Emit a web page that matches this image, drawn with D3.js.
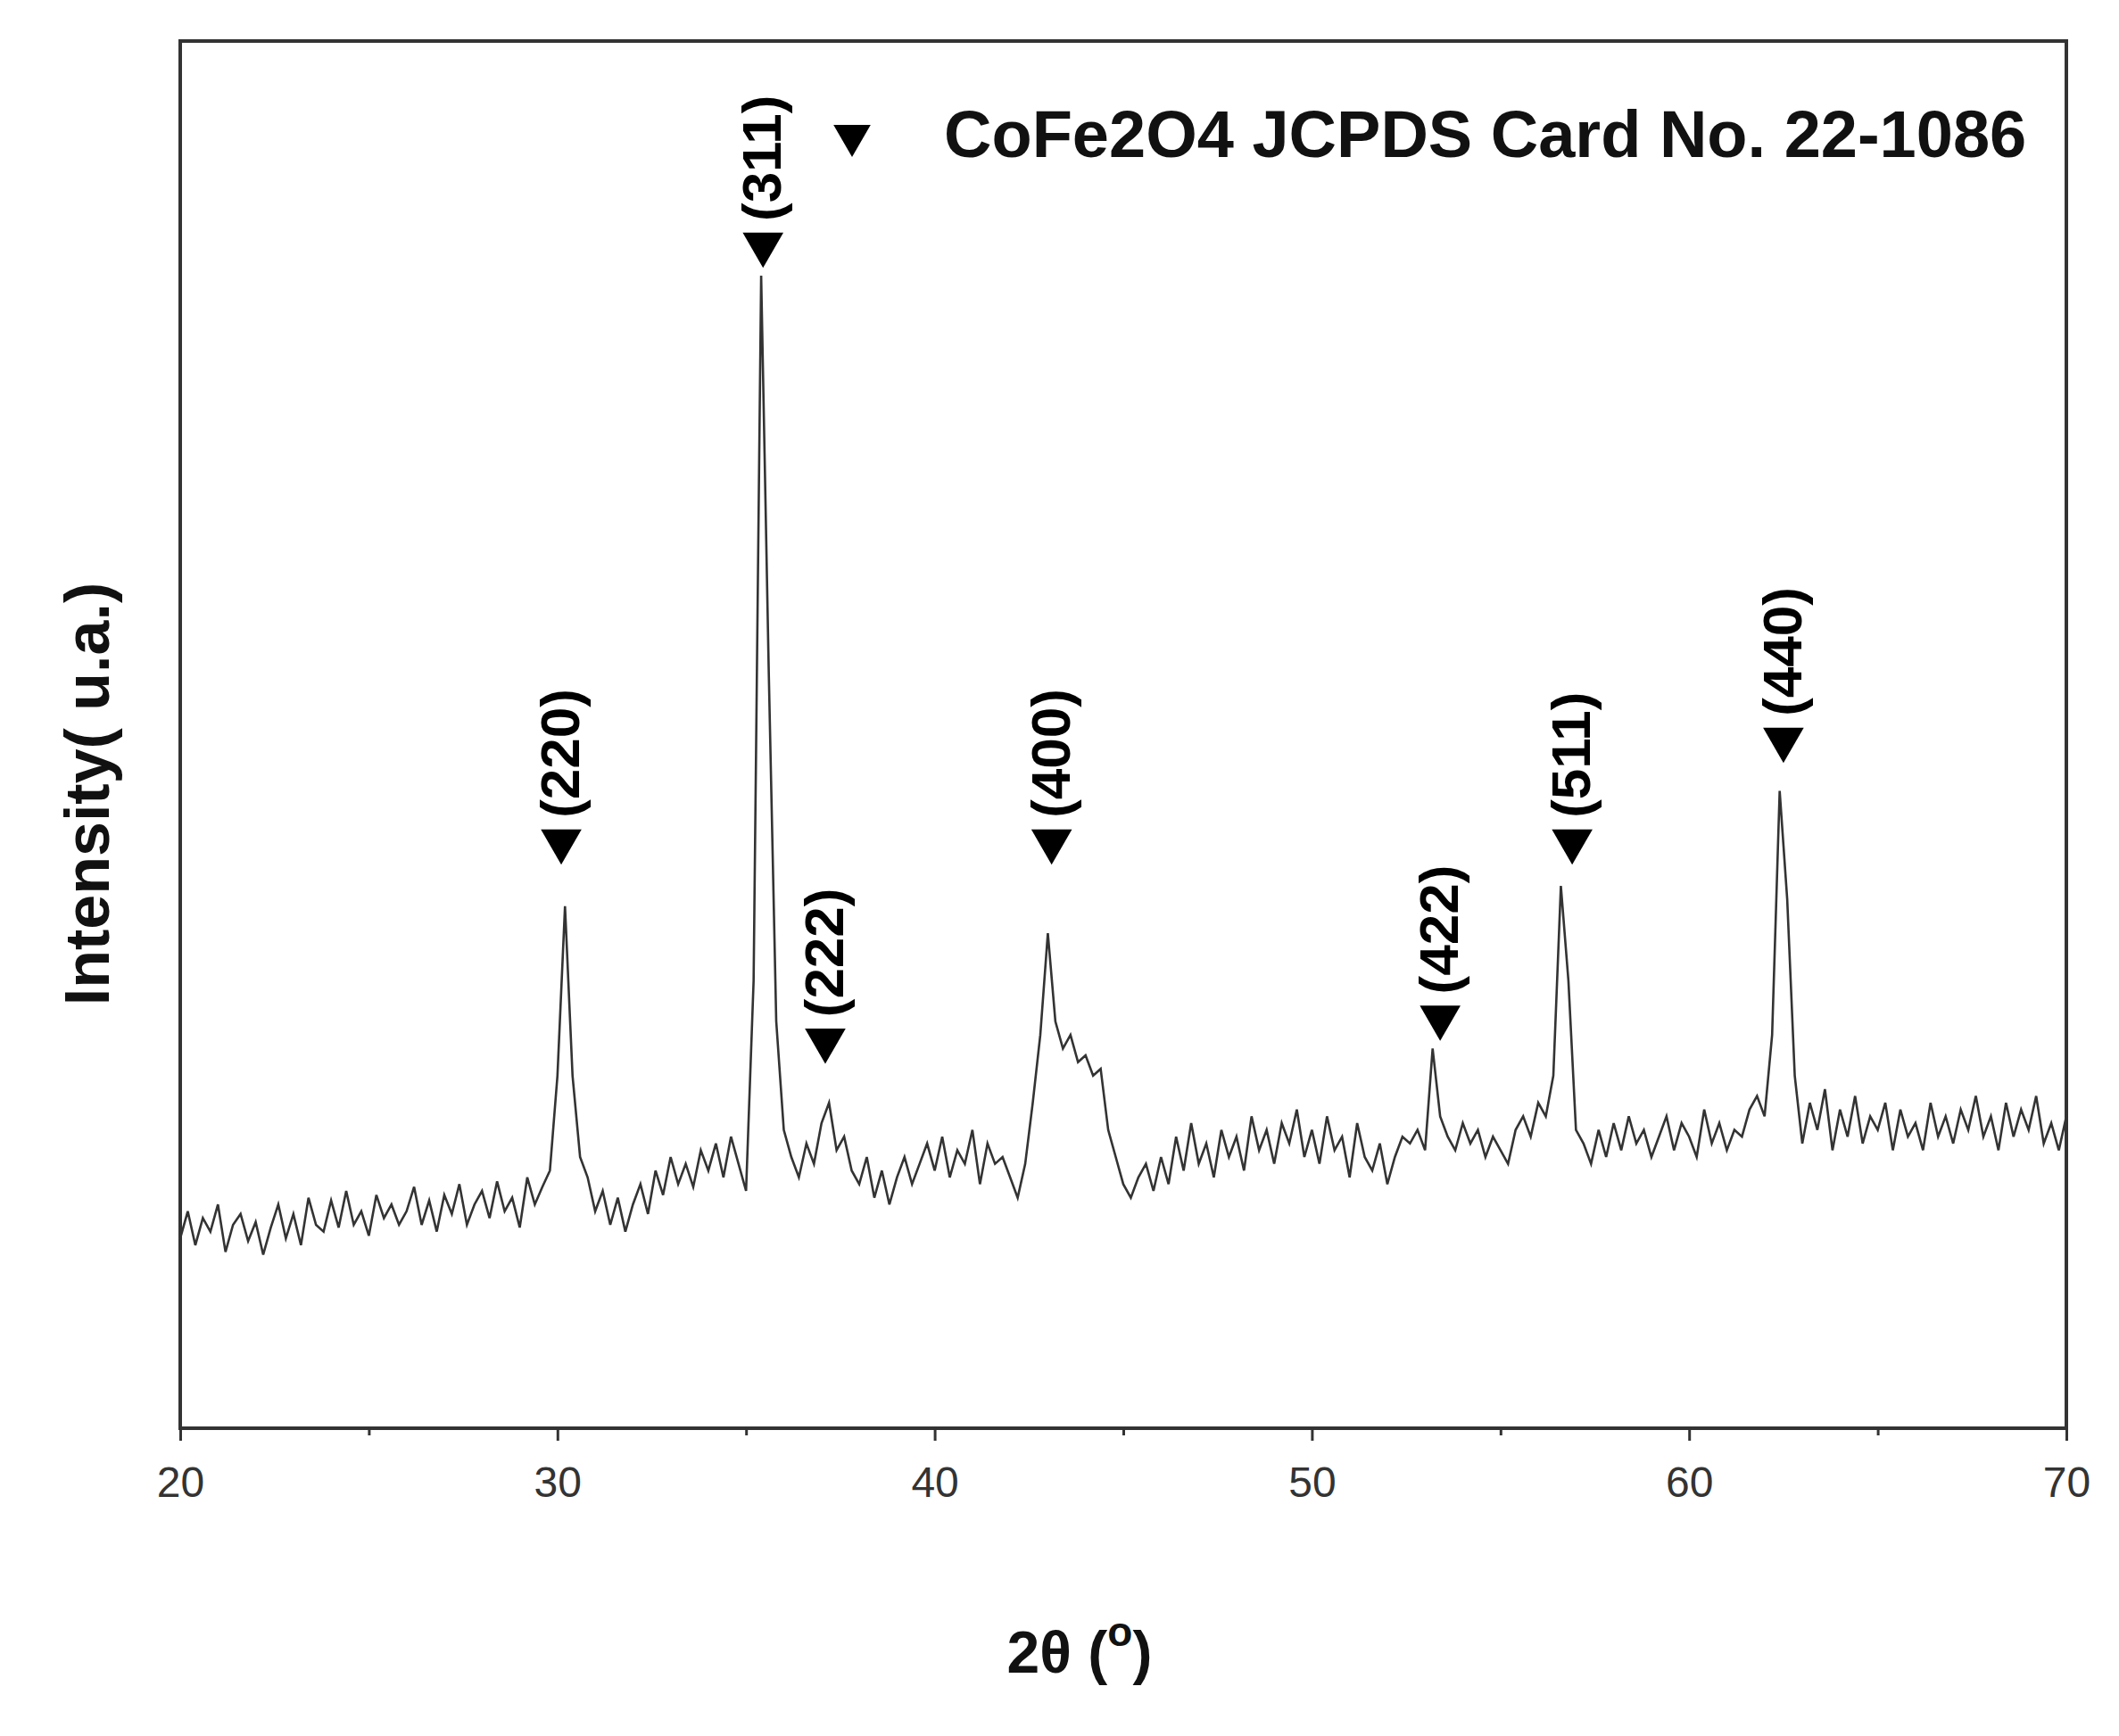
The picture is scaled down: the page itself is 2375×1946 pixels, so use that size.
<!DOCTYPE html><html><head><meta charset="utf-8">
<script src="https://cdn.jsdelivr.net/npm/d3@7"></script>
<style>body{margin:0;background:#fff}</style></head><body>
<svg id="c" width="2375" height="1946"></svg>
<script>
const xStart = 20, xStep = 0.2;
const intensity = [
140,160,135,155,145,165,130,150,158,138,
152,128,148,165,140,158,135,170,150,145,
168,148,175,150,160,142,172,155,165,150,
160,178,150,168,145,172,158,180,150,165,
175,155,182,160,170,148,185,165,178,190,
260,385,260,200,185,160,175,150,170,145,
165,180,158,190,172,200,180,195,178,205,
190,210,185,215,195,175,330,850,560,300,
220,200,185,210,195,225,240,205,215,190,
180,200,170,190,165,185,200,180,195,210,
190,215,185,205,195,220,180,210,195,200,
185,170,195,240,290,365,300,280,290,270,
275,260,265,220,200,180,170,185,195,175,
200,180,215,190,225,195,210,185,220,200,
215,190,230,205,220,195,225,210,235,200,
220,195,230,205,215,185,225,200,190,210,
180,200,215,210,220,205,280,230,215,205,
225,210,220,200,215,205,195,220,230,215,
240,230,260,400,330,220,210,195,220,200,
225,205,230,210,220,200,215,230,205,225,
215,200,235,210,225,205,220,215,235,245,
230,290,470,390,260,210,240,220,250,205,
235,215,245,210,230,220,240,205,235,215,
225,205,240,215,230,210,235,220,245,215,
230,205,240,215,235,220,245,210,225,205,
230];
const peakLabels = ["(220)","(311)","(222)","(400)","(422)","(511)","(440)"];
const peakPos = [30.1,35.45,37.1,43.1,53.4,56.9,62.5];
const peakMark = [433,873,286,433,303,433,508];
const xTicks = [20,30,40,50,60,70];
const legendText = "CoFe2O4 JCPDS Card No. 22-1086";

const svg = d3.select("#c");
const L=202,R=2316,T=46,B=1601;
const x = d3.scaleLinear().domain([20,70]).range([L,R]);
const y = d3.scaleLinear().domain([0,1023]).range([B,T]);
const font = "Liberation Sans, Arial, sans-serif";

const data = intensity.map((v,i)=>[xStart+i*xStep, v]);
svg.append("path").datum(data).attr("fill","none").attr("stroke","#333").attr("stroke-width",2.6)
  .attr("d", d3.line().x(d=>x(d[0])).y(d=>y(d[1])));

svg.append("rect").attr("x",L).attr("y",T).attr("width",R-L).attr("height",B-T)
  .attr("fill","none").attr("stroke","#333").attr("stroke-width",4);

const ax = svg.append("g").attr("transform",`translate(0,${B})`)
  .call(d3.axisBottom(x).tickValues(xTicks).tickSize(14).tickFormat(d3.format("d")));
ax.select(".domain").remove();
ax.selectAll("line").attr("stroke","#333").attr("stroke-width",3);
ax.selectAll("text").attr("font-family",font).attr("font-size",48).attr("fill","#333").attr("dy","1.25em");
const mx = svg.append("g").attr("transform",`translate(0,${B})`)
  .call(d3.axisBottom(x).tickValues([25,35,45,55,65]).tickSize(8).tickFormat(""));
mx.select(".domain").remove();
mx.selectAll("line").attr("stroke","#333").attr("stroke-width",3);

const tri = d3.symbol().type(d3.symbolTriangle).size(900);
peakLabels.forEach((lab,i)=>{
  const px=x(peakPos[i]), py=y(peakMark[i]);
  svg.append("path").attr("d",tri).attr("transform",`translate(${px},${py}) rotate(180)`).attr("fill","#000");
  svg.append("text").attr("transform",`translate(${px+20},${py-26}) rotate(-90)`)
    .attr("font-family",font).attr("font-weight","bold").attr("font-size",62).text(lab);
});
svg.append("path").attr("d",d3.symbol().type(d3.symbolTriangle).size(750)).attr("transform",`translate(955,152) rotate(180)`).attr("fill","#000");
svg.append("text").attr("x",1058).attr("y",176).attr("font-family",font).attr("font-weight","bold")
  .attr("font-size",74).attr("fill","#111").text(legendText);

svg.append("text").attr("transform","translate(122,890) rotate(-90)").attr("text-anchor","middle")
  .attr("font-family",font).attr("font-weight","bold").attr("font-size",70).attr("fill","#111").text("Intensity( u.a.)");
const xt = svg.append("text").attr("x",1210).attr("y",1875).attr("text-anchor","middle")
  .attr("font-family",font).attr("font-weight","bold").attr("font-size",66).attr("fill","#111");
xt.append("tspan").text("2θ (");
xt.append("tspan").attr("dy",-30).attr("font-size",46).text("o");
xt.append("tspan").attr("dy",30).text(")");
</script></body></html>
